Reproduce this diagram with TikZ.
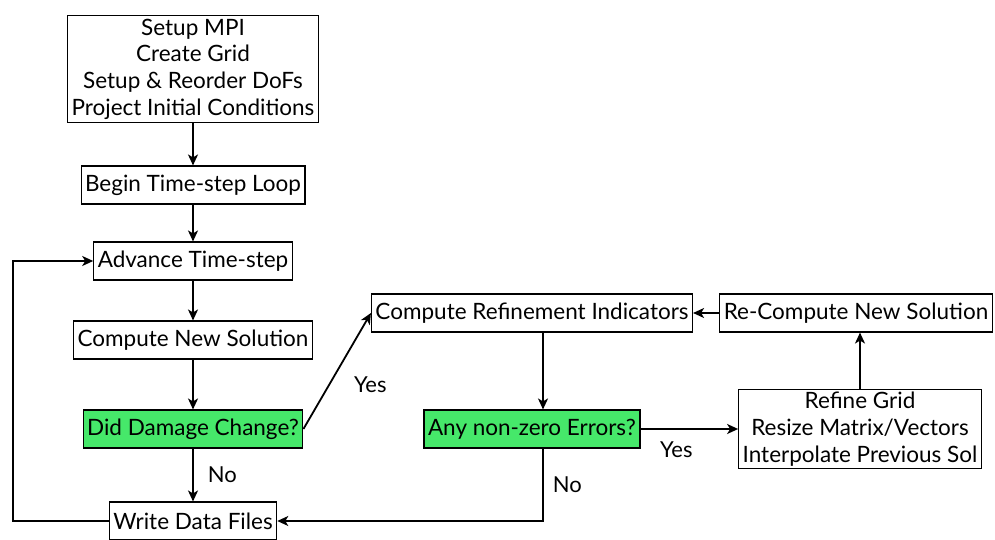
\documentclass[tikz,border=0pt]{standalone}
\usepackage{fontspec}
\setmainfont{Lato}
\usetikzlibrary{arrows.meta,positioning,calc}
\definecolor{testgreen}{RGB}{70,232,106}

\begin{document}
\begin{tikzpicture}[x=1pt, y=-1pt,
  box/.style={draw, line width=1.1pt, fill=white, align=center, inner xsep=4pt, inner ysep=3pt,
    minimum height=38pt, font=\fontsize{22.5}{26.7}\selectfont},
  query/.style={box, fill=testgreen},
  lbl/.style={inner sep=0pt, font=\fontsize{22}{26}\selectfont},
  flow/.style={-{Stealth[length=11pt,width=10pt,inset=3pt]}, line width=1.8pt}]

\useasboundingbox (0,0) rectangle (995,540);

% main time loop
\node[box] (setup) at (193,69) {Setup MPI\\Create Grid\\Setup \& Reorder DoFs\\Project Initial Conditions};
\node[box] (begin) at (193,185) {Begin Time-step Loop};
\node[box] (adv) at (193,261) {Advance Time-step};
\node[box] (comp) at (193,340) {Compute New Solution};
\node[query] (dmg) at (193,429) {Did Damage Change?};
\node[box] (write) at (193,521) {Write Data Files};

% refinement branch
\node[box] (refind) at (532,313) {Compute Refinement Indicators};
\node[query] (errs) at (532,429) {Any non-zero Errors?};
\node[box] (refine) at (860,429) {Refine Grid\\Resize Matrix/Vectors\\Interpolate Previous Sol};
\node[box] (recomp) at (856,313) {Re-Compute New Solution};

\coordinate (loopL) at (13,0);

\draw[flow] (setup) -- (begin);
\draw[flow] (begin) -- (adv);
\draw[flow] (adv) -- (comp);
\draw[flow] (comp) -- (dmg);
\draw[flow] (dmg) -- node[lbl, right=14pt] {No} (write);
\draw[flow] (write.west) -- (write.west -| loopL) |- (adv.west);

\draw[flow] (dmg.east) -- node[lbl, below right=5pt and 16pt] {Yes} (refind.west);
\draw[flow] ([xshift=11pt]refind.south) -- ([xshift=11pt]errs.north);
\draw[flow] ([xshift=11pt]errs.south) |- node[lbl, pos=0.25, right=9pt] {No} (write.east);
\draw[flow] (errs) -- node[lbl, below=12pt, xshift=-13pt] {Yes} (refine);
\draw[flow] (refine.north) -- (refine.north |- recomp.south);
\draw[flow] (recomp) -- (refind);

\end{tikzpicture}
\end{document}
